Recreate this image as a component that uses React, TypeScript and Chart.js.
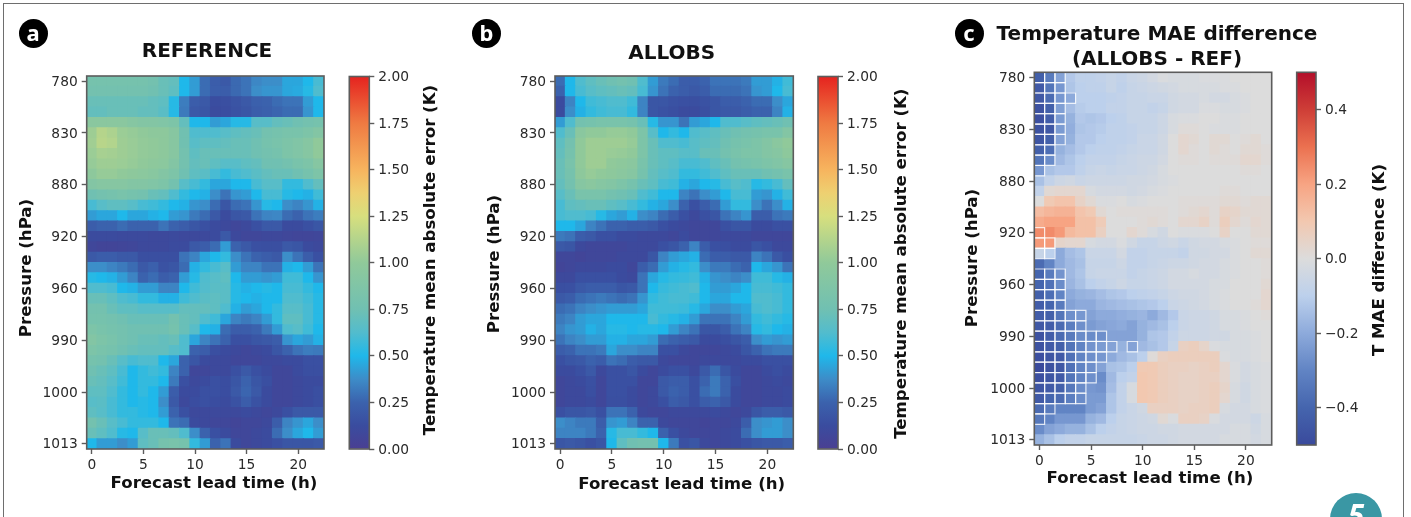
import React, { useEffect, useRef } from "react";
import { Chart, registerables } from "chart.js";

Chart.register(...registerables);

const forecastHourTicks = [0, 5, 10, 15, 20];
const pressureTickLabels = ["780", "830", "880", "920", "960", "990", "1000", "1013"];
const pressureTickRows = [0, 5, 10, 15, 20, 25, 30, 35];
const maeColorbarTicks = [0, 0.25, 0.5, 0.75, 1, 1.25, 1.5, 1.75, 2];
const diffColorbarTicks = [-0.4, -0.2, 0, 0.2, 0.4];

const referenceMae = [
  [.8,.8,.8,.8,.8,.8,.78,.72,.7,.5,.42,.28,.22,.2,.27,.3,.36,.38,.38,.45,.45,.5,.6],
  [.78,.78,.78,.78,.78,.78,.76,.72,.68,.5,.42,.28,.23,.22,.27,.3,.38,.4,.4,.45,.46,.52,.62],
  [.72,.72,.72,.72,.72,.72,.7,.68,.52,.33,.22,.2,.13,.14,.17,.2,.24,.25,.28,.3,.3,.42,.5],
  [.7,.7,.72,.72,.72,.7,.7,.66,.52,.32,.2,.18,.12,.13,.16,.18,.22,.24,.26,.28,.28,.4,.5],
  [.95,.95,.95,.95,.92,.9,.9,.88,.85,.7,.5,.5,.42,.45,.52,.52,.65,.65,.7,.72,.75,.78,.8],
  [1.05,1.13,1.1,1.04,1.02,1,.98,.98,.93,.76,.62,.62,.62,.65,.68,.7,.72,.78,.8,.82,.82,.85,.9],
  [1.06,1.14,1.12,1.05,1.03,1.01,1,.98,.93,.76,.65,.68,.68,.7,.72,.72,.75,.8,.82,.85,.88,.92,1],
  [1.04,1.08,1.07,1.05,1.03,1.01,1,.98,.93,.78,.68,.72,.72,.72,.72,.72,.75,.78,.8,.85,.88,.92,1],
  [1.02,1.05,1.05,1.04,1.02,1,.98,.96,.9,.78,.7,.72,.68,.65,.65,.68,.7,.75,.75,.78,.82,.85,.92],
  [.98,1.02,1.02,1,.98,.96,.94,.9,.85,.75,.68,.66,.6,.55,.6,.62,.66,.7,.72,.72,.75,.8,.85],
  [.9,.92,.92,.92,.9,.9,.88,.85,.78,.65,.6,.55,.45,.45,.5,.5,.6,.65,.65,.55,.55,.62,.7],
  [.75,.78,.8,.82,.8,.78,.72,.7,.62,.55,.5,.48,.38,.3,.4,.42,.5,.6,.6,.52,.5,.48,.58],
  [.6,.65,.68,.68,.65,.6,.58,.55,.5,.48,.4,.38,.28,.18,.28,.3,.4,.52,.5,.38,.35,.4,.48],
  [.42,.45,.45,.5,.45,.45,.48,.5,.42,.4,.32,.28,.2,.12,.18,.2,.3,.35,.36,.28,.25,.3,.33],
  [.22,.25,.25,.28,.25,.25,.25,.3,.25,.22,.18,.15,.12,.1,.08,.1,.15,.2,.2,.12,.12,.15,.18],
  [.12,.12,.12,.11,.11,.11,.1,.1,.11,.1,.1,.1,.12,.2,.1,.08,.08,.09,.09,.08,.07,.07,.08],
  [.08,.06,.06,.07,.08,.1,.1,.1,.12,.12,.2,.22,.28,.42,.25,.2,.15,.14,.14,.2,.18,.12,.1],
  [.2,.22,.22,.2,.2,.14,.14,.14,.14,.3,.35,.45,.5,.55,.38,.3,.25,.22,.2,.38,.3,.22,.15],
  [.38,.38,.35,.32,.28,.2,.24,.16,.18,.28,.48,.55,.6,.65,.42,.35,.35,.3,.3,.48,.5,.42,.3],
  [.52,.5,.48,.42,.35,.25,.28,.22,.25,.42,.52,.62,.65,.68,.5,.42,.42,.4,.42,.58,.58,.5,.4],
  [.62,.62,.6,.5,.48,.42,.42,.35,.35,.5,.58,.63,.66,.66,.52,.48,.5,.52,.5,.6,.6,.55,.5],
  [.72,.72,.68,.62,.6,.55,.55,.48,.48,.58,.62,.66,.68,.66,.52,.5,.48,.5,.5,.62,.62,.58,.52],
  [.78,.78,.72,.68,.68,.65,.65,.65,.65,.7,.7,.7,.68,.62,.48,.42,.45,.5,.55,.65,.65,.6,.52],
  [.8,.8,.78,.75,.72,.72,.72,.72,.78,.72,.7,.62,.58,.45,.35,.32,.35,.42,.55,.68,.68,.6,.52],
  [.85,.82,.8,.78,.75,.75,.75,.75,.8,.72,.65,.5,.48,.28,.22,.22,.25,.32,.42,.62,.65,.58,.5],
  [.9,.85,.82,.78,.75,.72,.72,.7,.72,.62,.45,.35,.3,.25,.15,.15,.18,.2,.22,.4,.45,.42,.48],
  [.85,.82,.8,.75,.72,.7,.7,.7,.65,.62,.25,.22,.14,.12,.1,.08,.1,.12,.18,.25,.3,.33,.32],
  [.8,.78,.72,.65,.6,.62,.62,.5,.45,.25,.18,.12,.1,.1,.08,.08,.08,.1,.1,.12,.12,.15,.15],
  [.75,.72,.68,.6,.5,.55,.58,.55,.35,.25,.08,.08,.1,.1,.15,.2,.15,.12,.08,.08,.12,.14,.14],
  [.72,.7,.65,.58,.5,.55,.55,.5,.32,.15,.1,.12,.15,.13,.18,.25,.18,.14,.08,.08,.1,.12,.12],
  [.68,.68,.62,.55,.5,.55,.5,.42,.22,.12,.12,.15,.15,.13,.2,.26,.2,.12,.08,.08,.1,.12,.14],
  [.65,.66,.6,.55,.5,.52,.5,.38,.2,.1,.13,.15,.13,.12,.16,.22,.16,.12,.08,.08,.1,.12,.14],
  [.68,.65,.6,.55,.55,.52,.5,.42,.25,.15,.1,.1,.1,.1,.1,.12,.1,.08,.1,.15,.2,.2,.2],
  [.78,.72,.65,.6,.55,.55,.55,.5,.3,.28,.12,.1,.08,.08,.06,.08,.08,.1,.22,.35,.4,.45,.38],
  [.72,.68,.62,.52,.5,.65,.72,.72,.7,.62,.38,.25,.15,.12,.08,.08,.1,.12,.28,.38,.45,.5,.42],
  [.5,.42,.42,.38,.42,.68,.72,.8,.82,.8,.55,.42,.25,.3,.12,.08,.1,.12,.15,.18,.18,.18,.2],
];

const allobsMae = [
  [.28,.5,.62,.68,.72,.75,.78,.75,.62,.42,.32,.28,.22,.22,.25,.3,.3,.3,.32,.42,.42,.48,.58],
  [.25,.5,.6,.65,.68,.7,.72,.7,.6,.4,.3,.25,.22,.2,.22,.28,.28,.28,.3,.4,.42,.5,.6],
  [.12,.35,.5,.58,.6,.62,.62,.58,.35,.18,.18,.16,.15,.14,.16,.18,.22,.22,.25,.28,.28,.38,.45],
  [.12,.38,.48,.55,.58,.6,.6,.55,.35,.18,.16,.14,.12,.12,.14,.18,.2,.2,.22,.25,.25,.35,.48],
  [.42,.62,.78,.8,.82,.82,.82,.8,.72,.52,.4,.4,.3,.42,.45,.5,.62,.62,.65,.68,.7,.72,.75],
  [.62,.72,.95,1,1,1.02,1.02,1,.85,.65,.5,.55,.5,.62,.65,.68,.72,.75,.78,.8,.82,.82,.9],
  [.68,.78,1,1.05,1.05,1.05,1.05,1.02,.85,.72,.62,.62,.6,.65,.68,.7,.75,.8,.82,.85,.9,.95,1],
  [.7,.8,1,1.05,1.05,1.03,1.02,1,.85,.72,.68,.68,.65,.65,.72,.72,.78,.82,.85,.85,.9,.92,.98],
  [.72,.82,1,1.05,1.05,1,.98,.95,.82,.72,.68,.65,.6,.6,.62,.68,.72,.78,.8,.82,.85,.88,.92],
  [.72,.8,.98,1.02,1,.98,.95,.92,.8,.7,.65,.62,.55,.55,.58,.62,.68,.72,.72,.72,.75,.78,.82],
  [.7,.78,.92,.95,.92,.9,.85,.8,.72,.68,.6,.58,.48,.45,.5,.52,.6,.65,.62,.52,.55,.6,.7],
  [.65,.72,.82,.82,.82,.78,.75,.72,.62,.58,.5,.5,.35,.3,.38,.42,.5,.6,.6,.42,.4,.48,.58],
  [.6,.68,.7,.72,.72,.68,.65,.6,.55,.48,.45,.38,.25,.15,.22,.28,.42,.55,.55,.38,.3,.38,.48],
  [.6,.62,.62,.6,.52,.45,.42,.48,.38,.35,.28,.22,.15,.1,.15,.18,.3,.35,.4,.22,.22,.3,.32],
  [.5,.5,.45,.35,.3,.25,.25,.22,.22,.2,.15,.12,.1,.08,.08,.08,.15,.18,.18,.12,.12,.15,.15],
  [.32,.3,.22,.2,.15,.15,.12,.12,.1,.1,.1,.08,.12,.08,.08,.08,.1,.1,.1,.08,.08,.08,.08],
  [.2,.18,.1,.08,.08,.08,.08,.1,.1,.1,.15,.18,.25,.35,.22,.15,.14,.12,.12,.18,.15,.1,.1],
  [.08,.08,.06,.08,.08,.08,.1,.1,.1,.18,.35,.42,.45,.48,.28,.22,.22,.2,.2,.35,.3,.2,.14],
  [.06,.08,.1,.1,.1,.12,.12,.08,.22,.28,.42,.48,.52,.55,.38,.32,.32,.28,.25,.5,.45,.4,.3],
  [.1,.1,.15,.15,.15,.15,.12,.1,.3,.45,.52,.55,.56,.58,.48,.4,.38,.35,.38,.58,.58,.52,.48],
  [.14,.15,.2,.22,.22,.22,.18,.2,.3,.5,.56,.58,.6,.62,.5,.42,.42,.45,.5,.6,.6,.58,.55],
  [.2,.22,.28,.3,.32,.3,.28,.3,.4,.55,.58,.6,.6,.58,.5,.45,.45,.5,.5,.62,.62,.6,.55],
  [.28,.3,.35,.38,.4,.42,.42,.42,.45,.58,.58,.58,.57,.52,.45,.38,.38,.42,.45,.6,.62,.6,.55],
  [.32,.35,.42,.45,.45,.5,.5,.5,.5,.6,.55,.52,.48,.42,.3,.3,.3,.35,.42,.55,.58,.55,.52],
  [.35,.4,.42,.48,.45,.52,.52,.5,.52,.52,.5,.42,.35,.3,.18,.18,.22,.3,.35,.52,.55,.5,.48],
  [.3,.35,.38,.42,.42,.48,.48,.45,.45,.42,.28,.25,.22,.2,.12,.12,.14,.18,.22,.38,.42,.4,.42],
  [.22,.25,.3,.3,.32,.45,.38,.38,.35,.35,.15,.15,.1,.08,.08,.08,.1,.12,.18,.25,.3,.32,.32],
  [.15,.18,.2,.25,.22,.3,.28,.22,.2,.2,.1,.08,.08,.08,.1,.1,.1,.1,.12,.12,.15,.15,.15],
  [.12,.12,.15,.2,.1,.15,.15,.18,.12,.08,.12,.15,.15,.1,.2,.28,.18,.12,.08,.08,.12,.14,.12],
  [.08,.1,.12,.15,.08,.15,.15,.15,.08,.08,.2,.22,.22,.15,.25,.32,.25,.14,.08,.08,.1,.12,.1],
  [.08,.1,.1,.14,.08,.15,.15,.12,.08,.1,.2,.25,.22,.15,.28,.32,.25,.12,.08,.08,.1,.1,.12],
  [.08,.1,.1,.12,.08,.14,.14,.12,.08,.1,.15,.22,.2,.15,.22,.25,.2,.12,.08,.08,.1,.1,.12],
  [.15,.18,.18,.2,.15,.3,.3,.25,.1,.08,.08,.1,.1,.1,.1,.12,.1,.08,.1,.18,.22,.22,.2],
  [.38,.35,.32,.32,.22,.4,.42,.35,.25,.25,.1,.08,.08,.08,.06,.08,.08,.1,.22,.38,.4,.42,.38],
  [.35,.35,.35,.32,.25,.52,.6,.6,.55,.5,.25,.15,.1,.08,.08,.08,.1,.12,.28,.38,.42,.42,.38],
  [.18,.2,.18,.15,.18,.5,.68,.75,.78,.78,.5,.32,.15,.18,.1,.08,.1,.12,.15,.18,.2,.2,.22],
];

const maeDifference = [
  [-.42,-.33,-.22,-.12,-.09,-.09,-.08,-.07,-.08,-.06,-.05,-.03,-.01,-.02,-.02,-.02,-.01,-.01,-.01,0,0,0,0],
  [-.44,-.35,-.25,-.13,-.1,-.09,-.09,-.07,-.09,-.07,-.06,-.05,-.04,-.03,-.02,-.02,-.02,-.02,-.01,-.01,0,0,0],
  [-.45,-.38,-.25,-.2,-.1,-.1,-.1,-.09,-.08,-.07,-.07,-.06,-.06,-.04,-.03,-.03,-.02,-.03,-.03,-.02,-.01,0,0],
  [-.47,-.42,-.23,-.15,-.11,-.1,-.1,-.08,-.08,-.07,-.07,-.08,-.07,-.04,-.03,-.03,-.01,-.01,-.02,-.02,-.01,0,0],
  [-.48,-.43,-.24,-.18,-.12,-.13,-.12,-.1,-.09,-.07,-.07,-.07,-.05,-.02,-.01,-.01,0,0,-.01,-.01,0,0,0],
  [-.47,-.45,-.24,-.19,-.13,-.12,-.11,-.09,-.09,-.08,-.07,-.07,-.05,-.02,.01,.01,0,-.01,-.01,-.01,0,0,0],
  [-.46,-.42,-.22,-.18,-.12,-.12,-.1,-.09,-.09,-.08,-.06,-.06,-.04,0,.03,.02,0,.02,.02,0,.01,.02,0],
  [-.42,-.37,-.18,-.15,-.12,-.1,-.09,-.09,-.08,-.07,-.06,-.06,-.04,0,.03,.01,0,.02,.01,0,.02,.02,.01],
  [-.35,-.28,-.16,-.13,-.1,-.08,-.08,-.08,-.07,-.06,-.05,-.05,-.03,0,.01,.01,0,.01,.01,.01,.03,.03,.01],
  [-.25,-.14,-.12,-.12,-.09,-.07,-.06,-.07,-.06,-.06,-.05,-.04,-.02,0,0,0,0,0,0,0,.01,.01,0],
  [-.14,-.08,-.05,-.04,-.06,-.05,-.05,-.05,-.05,-.04,-.04,-.03,-.02,-.01,0,0,0,0,0,0,0,0,0],
  [-.08,.02,.03,.03,.03,-.02,-.03,-.03,-.03,-.04,-.03,-.02,-.01,0,0,0,0,0,.01,.01,0,0,0],
  [0,.09,.11,.11,.05,.02,-.01,-.01,0,-.02,-.01,0,0,0,.01,.01,.01,.01,.02,.02,.01,.02,.02],
  [.13,.15,.16,.16,.11,.09,.02,0,.01,.01,.01,.01,.01,0,.01,.02,.03,.01,.05,.04,.02,.02,.02],
  [.18,.2,.2,.2,.12,.12,.08,0,0,0,.01,.02,.01,0,.03,.03,.05,.01,.07,.03,.01,.03,.02],
  [.25,.25,.22,.14,.12,.12,.06,0,0,.03,.01,-.02,-.04,0,-.01,-.01,-.01,0,.05,0,0,.02,.02],
  [.22,.22,.04,.03,.03,-.02,-.03,-.03,-.01,-.04,-.07,-.07,-.05,-.04,-.06,-.04,-.03,-.03,-.02,-.01,0,.01,.01],
  [-.07,-.1,-.2,-.15,-.13,-.06,-.06,-.06,-.03,-.08,-.08,-.07,-.07,-.07,-.08,-.04,-.04,-.03,-.03,-.01,0,.02,.02],
  [-.38,-.3,-.2,-.16,-.14,-.07,-.07,-.07,-.05,-.08,-.08,-.07,-.06,-.05,-.05,-.04,-.03,-.03,-.02,-.01,0,0,.01],
  [-.4,-.33,-.26,-.16,-.13,-.07,-.06,-.06,-.06,-.08,-.07,-.06,-.05,-.03,-.03,-.02,-.03,-.03,-.02,-.01,0,0,.01],
  [-.4,-.36,-.28,-.17,-.14,-.1,-.08,-.07,-.05,-.07,-.07,-.06,-.05,-.03,-.03,-.03,-.03,-.02,-.02,0,0,0,.02],
  [-.42,-.37,-.3,-.2,-.18,-.17,-.15,-.13,-.12,-.1,-.09,-.08,-.07,-.05,-.04,-.04,-.03,-.02,-.01,0,0,0,.03],
  [-.43,-.4,-.33,-.22,-.2,-.2,-.17,-.16,-.15,-.14,-.13,-.12,-.1,-.06,-.05,-.04,-.03,-.02,-.01,0,0,.01,.03],
  [-.43,-.42,-.35,-.27,-.25,-.22,-.2,-.2,-.19,-.18,-.17,-.2,-.16,-.12,-.06,-.05,-.05,-.04,-.02,-.02,-.01,0,.01],
  [-.45,-.43,-.38,-.32,-.27,-.24,-.22,-.21,-.2,-.22,-.18,-.16,-.14,-.1,-.06,-.05,-.05,-.04,-.02,-.02,-.01,0,0],
  [-.47,-.43,-.38,-.33,-.28,-.28,-.27,-.22,-.22,-.22,-.18,-.13,-.12,-.08,-.05,-.05,-.05,-.04,-.04,-.02,-.02,-.01,0],
  [-.47,-.44,-.42,-.35,-.3,-.26,-.24,-.22,-.18,-.22,-.16,-.14,-.12,-.07,.06,.07,.04,-.01,-.02,-.02,-.02,-.01,0],
  [-.48,-.46,-.44,-.36,-.3,-.27,-.25,-.2,-.16,-.14,-.1,.01,.06,.07,.07,.07,.07,.07,-.01,-.02,-.02,-.01,0],
  [-.5,-.47,-.45,-.36,-.3,-.27,-.22,-.14,-.13,-.1,.09,.09,.07,.06,.06,.05,.06,.07,.03,-.01,-.03,-.02,-.01],
  [-.48,-.46,-.44,-.35,-.3,-.27,-.28,-.16,-.1,-.08,.1,.09,.07,.06,.05,.05,.06,.06,.03,-.01,-.03,-.02,-.01],
  [-.46,-.44,-.42,-.34,-.28,-.25,-.26,-.15,-.08,-.02,.1,.09,.07,.06,.05,.05,.06,.07,.04,-.02,-.04,-.02,-.01],
  [-.44,-.4,-.38,-.32,-.28,-.24,-.24,-.13,-.08,-.02,.1,.09,.07,.06,.05,.05,.06,.07,.03,-.02,-.04,-.02,-.01],
  [-.38,-.33,-.3,-.3,-.3,-.24,-.22,-.13,-.08,-.06,-.04,.06,.06,.06,.05,.06,.06,.07,-.02,-.03,-.03,-.02,-.01],
  [-.34,-.3,-.25,-.25,-.25,-.18,-.16,-.1,-.07,-.06,-.05,-.04,.02,-.01,.06,.06,.05,-.01,-.03,-.03,-.03,-.05,-.02],
  [-.28,-.22,-.2,-.18,-.18,-.14,-.1,-.08,-.07,-.06,-.05,-.05,-.04,-.04,-.03,-.03,-.03,-.03,-.03,-.02,-.02,-.04,-.02],
  [-.18,-.14,-.1,-.08,-.08,-.07,-.07,-.07,-.07,-.07,-.06,-.05,-.05,-.04,-.03,-.03,-.03,-.03,-.02,-.02,-.02,-.03,-.02],
];

// Number of leading columns that carry a white significance box in each row of the difference panel.
const significantColumnCount = [3,3,4,3,3,3,3,2,2,1,0,0,0,0,0,1,2,2,0,3,3,3,3,5,5,7,8,7,6,6,5,5,2,1,0,0];
const isolatedSignificantCells = [{ x: 9, y: 26 }];

const maeColorStops: [number, number[]][] = [
  [0, [74, 63, 146]], [0.125, [58, 76, 159]], [0.25, [59, 98, 173]], [0.375, [61, 140, 200]],
  [0.5, [31, 184, 234]], [0.625, [82, 188, 205]], [0.75, [112, 192, 178]], [1, [144, 201, 154]],
  [1.25, [215, 223, 126]], [1.375, [238, 208, 113]], [1.5, [247, 180, 94]], [1.75, [239, 122, 66]], [2, [229, 35, 31]],
];
const diffColorStops: [number, number[]][] = [
  [-0.5, [58, 74, 156]], [-0.4, [69, 101, 174]], [-0.3, [97, 132, 196]], [-0.2, [141, 170, 219]],
  [-0.1, [188, 208, 236]], [0, [220, 220, 220]], [0.1, [242, 200, 176]], [0.2, [247, 164, 131]],
  [0.3, [235, 113, 80]], [0.4, [206, 62, 55]], [0.5, [180, 14, 42]],
];

const colorAt = (stops: [number, number[]][], v: number) => {
  const c = Math.max(stops[0][0], Math.min(stops[stops.length - 1][0], v));
  let i = 0;
  while (i < stops.length - 2 && c > stops[i + 1][0]) i++;
  const t = (c - stops[i][0]) / (stops[i + 1][0] - stops[i][0]);
  const a = stops[i][1], b = stops[i + 1][1];
  return `rgb(${a[0] + (b[0] - a[0]) * t},${a[1] + (b[1] - a[1]) * t},${a[2] + (b[2] - a[2]) * t})`;
};

const FONT = '"DejaVu Sans", sans-serif';
const INK = "#2a2a2a";
const SPINE = "#5c5c5c";
const TICK_SIZE = 13.8;
const LABEL_SIZE = 16.6;
const TITLE_SIZE = 20;

const spinePlugin = {
  id: "spines",
  afterDatasetsDraw(chart: any) {
    const { ctx, chartArea: a } = chart;
    ctx.save();
    ctx.strokeStyle = SPINE;
    ctx.lineWidth = 1.6;
    ctx.strokeRect(a.left, a.top, a.right - a.left, a.bottom - a.top);
    ctx.restore();
  },
};

const placedLabelPlugin = {
  id: "placedLabels",
  afterDraw(chart: any, _args: any, opts: any) {
    const { ctx } = chart;
    (opts.items || []).forEach((it: any) => {
      ctx.save();
      ctx.translate(it.x, it.y);
      if (it.vertical) ctx.rotate(-Math.PI / 2);
      ctx.font = `bold ${it.size || LABEL_SIZE}px ${FONT}`;
      ctx.fillStyle = "#111";
      ctx.textAlign = "center";
      ctx.textBaseline = "middle";
      ctx.fillText(it.text, 0, 0);
      ctx.restore();
    });
  },
};

const axisStyle = {
  grid: { display: true, drawOnChartArea: false, drawTicks: true, tickLength: 5, tickColor: SPINE, tickWidth: 1.4 },
  border: { display: false },
};
const tickFont = { family: FONT, size: TICK_SIZE };

type TitleLine = { text: string; x: number; y: number };
type PanelSpec = {
  left: number; width: number; plotLeft: number; plotRight: number; plotTop: number; plotBottom: number;
  titleLines: TitleLine[];
  rows: number[][]; stops: [number, number[]][];
  xLabel: { x: number; y: number }; yLabel: { x: number; y: number };
  boxes?: { x: number; y: number }[];
};
type BarSpec = {
  left: number; width: number; barLeft: number; barRight: number; plotTop: number; plotBottom: number;
  min: number; max: number; ticks: number[]; format: (v: number) => string; stops: [number, number[]][];
  label: string; labelX: number; labelY: number;
};

const HEIGHT = 517;

function makeHeatmap(canvas: HTMLCanvasElement, p: PanelSpec) {
  const cells = p.rows.flatMap((row, y) => row.map((v, x) => ({ x, y, v })));
  const datasets: any[] = [
    {
      label: "cells",
      order: 2,
      data: cells,
      clip: 0,
      showLine: false,
      pointStyle: "rect",
      pointBorderWidth: 0,
      pointRadius: (c: any) => (c.chart.chartArea ? (c.chart.chartArea.width / 23 + 1.05) / Math.SQRT2 : 7),
      pointBackgroundColor: (c: any) => colorAt(p.stops, c.raw.v),
    },
  ];
  if (p.boxes) {
    datasets.push({
      label: "significant",
      order: 1,
      data: p.boxes,
      clip: 1,
      showLine: false,
      pointStyle: "rect",
      pointBorderWidth: 1.2,
      pointBorderColor: "rgba(255,255,255,0.8)",
      pointBackgroundColor: "rgba(0,0,0,0)",
      pointRadius: (c: any) => (c.chart.chartArea ? c.chart.chartArea.width / 23 / Math.SQRT2 : 7),
    });
  }
  return new Chart(canvas, {
    type: "scatter",
    data: { datasets },
    plugins: [spinePlugin, placedLabelPlugin],
    options: {
      animation: false,
      responsive: false,
      events: [],
      layout: { padding: { left: 0, top: p.plotTop, bottom: 0, right: p.width - (p.plotRight - p.left) } },
      scales: {
        x: {
          type: "linear", min: -0.5, max: 22.5,
          afterBuildTicks: (s: any) => { s.ticks = forecastHourTicks.map((value) => ({ value })); },
          afterFit: (s: any) => { s.height = HEIGHT - p.plotBottom; },
          ticks: { font: tickFont, color: INK, padding: 3, maxRotation: 0, autoSkip: false },
          ...axisStyle,
        },
        y: {
          type: "linear", min: -0.5, max: 35.5, reverse: true,
          afterBuildTicks: (s: any) => { s.ticks = pressureTickRows.map((value) => ({ value })); },
          afterFit: (s: any) => { s.width = p.plotLeft - p.left; },
          ticks: {
            font: tickFont, color: INK, padding: 4, autoSkip: false, labelOffset: 1,
            callback: (v: any) => pressureTickLabels[pressureTickRows.indexOf(v)],
          },
          ...axisStyle,
        },
      },
      plugins: {
        legend: { display: false },
        tooltip: { enabled: false },
        placedLabels: {
          items: [
            ...p.titleLines.map((t) => ({ text: t.text, x: t.x - p.left, y: t.y, size: TITLE_SIZE })),
            { text: "Forecast lead time (h)", x: p.xLabel.x - p.left, y: p.xLabel.y },
            { text: "Pressure (hPa)", x: p.yLabel.x - p.left, y: p.yLabel.y, vertical: true },
          ],
        },
      },
    } as any,
  });
}

function makeColorbar(canvas: HTMLCanvasElement, b: BarSpec) {
  return new Chart(canvas, {
    type: "bar",
    data: {
      labels: [b.label],
      datasets: [{
        data: [[b.min, b.max]],
        barPercentage: 1,
        categoryPercentage: 1,
        backgroundColor: (c: any) => {
          const a = c.chart.chartArea;
          if (!a) return "#888";
          const g = c.chart.ctx.createLinearGradient(0, a.bottom, 0, a.top);
          b.stops.forEach(([v, rgb]) => {
            g.addColorStop((v - b.min) / (b.max - b.min), `rgb(${rgb.join(",")})`);
          });
          return g;
        },
      }],
    } as any,
    plugins: [spinePlugin, placedLabelPlugin],
    options: {
      animation: false,
      responsive: false,
      events: [],
      layout: { padding: { left: b.barLeft - b.left, top: b.plotTop, bottom: HEIGHT - b.plotBottom, right: 0 } },
      scales: {
        x: { display: false },
        y: {
          position: "right", min: b.min, max: b.max,
          afterBuildTicks: (s: any) => { s.ticks = b.ticks.map((value) => ({ value })); },
          afterFit: (s: any) => { s.width = b.width - (b.barRight - b.left); },
          ticks: { font: tickFont, color: INK, padding: 4, autoSkip: false, labelOffset: 1, callback: (v: any) => b.format(v) },
          ...axisStyle,
        },
      },
      plugins: {
        legend: { display: false },
        tooltip: { enabled: false },
        placedLabels: { items: [{ text: b.label, x: b.labelX - b.left, y: b.labelY, vertical: true }] },
      },
    } as any,
  });
}

const significantCells = [
  ...significantColumnCount.flatMap((n, y) => Array.from({ length: n }, (_, x) => ({ x, y }))),
  ...isolatedSignificantCells,
];

const panelA: PanelSpec = {
  left: 0, width: 342, plotLeft: 86.7, plotRight: 324, plotTop: 76, plotBottom: 449,
  titleLines: [{ text: "REFERENCE", x: 207, y: 52 }],
  rows: referenceMae, stops: maeColorStops, xLabel: { x: 214, y: 484 }, yLabel: { x: 27, y: 268 },
};
const panelB: PanelSpec = {
  left: 462, width: 345, plotLeft: 555, plotRight: 793.3, plotTop: 76, plotBottom: 449,
  titleLines: [{ text: "ALLOBS", x: 671.7, y: 54 }],
  rows: allobsMae, stops: maeColorStops, xLabel: { x: 681.7, y: 485 }, yLabel: { x: 495, y: 264 },
};
const panelC: PanelSpec = {
  left: 937, width: 440, plotLeft: 1034.3, plotRight: 1271.7, plotTop: 72.3, plotBottom: 445,
  titleLines: [
    { text: "Temperature MAE difference", x: 1157, y: 35 },
    { text: "(ALLOBS - REF)", x: 1157, y: 59.5 },
  ],
  rows: maeDifference, stops: diffColorStops, xLabel: { x: 1150, y: 478.7 }, yLabel: { x: 973, y: 258 },
  boxes: significantCells,
};
const maeLabel = "Temperature mean absolute error (K)";
const barA: BarSpec = {
  left: 340, width: 120, barLeft: 349.3, barRight: 369.3, plotTop: 76.5, plotBottom: 449,
  min: 0, max: 2, ticks: maeColorbarTicks, format: (v) => v.toFixed(2), stops: maeColorStops,
  label: maeLabel, labelX: 431, labelY: 260,
};
const barB: BarSpec = {
  left: 810, width: 120, barLeft: 818, barRight: 838, plotTop: 76.5, plotBottom: 449,
  min: 0, max: 2, ticks: maeColorbarTicks, format: (v) => v.toFixed(2), stops: maeColorStops,
  label: maeLabel, labelX: 901.7, labelY: 263.7,
};
const barC: BarSpec = {
  left: 1285, width: 115, barLeft: 1296.7, barRight: 1316, plotTop: 72.3, plotBottom: 445,
  min: -0.5, max: 0.5, ticks: diffColorbarTicks,
  format: (v) => (v < 0 ? "\u2212" + Math.abs(v).toFixed(1) : v.toFixed(1)), stops: diffColorStops,
  label: "T MAE difference (K)", labelX: 1380, labelY: 260,
};

const canvasStyle = (left: number, width: number): React.CSSProperties => ({
  position: "absolute", left, top: 0, width, height: HEIGHT, display: "block", filter: "blur(0.6px)",
});

const Badge = ({ x, letter }: { x: number; letter: string }) => (
  <div style={{
    position: "absolute", left: x - 14.5, top: 18.5, width: 29, height: 29, borderRadius: "50%",
    background: "#000", color: "#fff", textAlign: "center",
    font: 'bold 22px/26px "Noto Sans", sans-serif',
  }}>{letter}</div>
);

export default function App() {
  const refs = [useRef<HTMLCanvasElement>(null), useRef<HTMLCanvasElement>(null), useRef<HTMLCanvasElement>(null),
    useRef<HTMLCanvasElement>(null), useRef<HTMLCanvasElement>(null), useRef<HTMLCanvasElement>(null)];
  const panels = [panelA, panelB, panelC];
  const bars = [barA, barB, barC];
  useEffect(() => {
    const charts = [
      ...panels.map((p, i) => makeHeatmap(refs[i].current!, p)),
      ...bars.map((b, i) => makeColorbar(refs[i + 3].current!, b)),
    ];
    return () => charts.forEach((c) => c.destroy());
  }, []);
  return (
    <div style={{ position: "fixed", left: 0, top: 0, width: 1411, height: HEIGHT, overflow: "hidden", background: "#fff" }}>
      <div style={{ position: "absolute", left: 3, top: 3, width: 1401, height: 600, border: "1.5px solid #6e6e6e", boxSizing: "border-box" }} />
      {panels.map((p, i) => <canvas key={i} ref={refs[i]} width={p.width} height={HEIGHT} style={canvasStyle(p.left, p.width)} />)}
      {bars.map((b, i) => <canvas key={i} ref={refs[i + 3]} width={b.width} height={HEIGHT} style={canvasStyle(b.left, b.width)} />)}
      <Badge x={33} letter="a" />
      <Badge x={486.5} letter="b" />
      <Badge x={969} letter="c" />
      <div style={{
        position: "absolute", left: 1330, top: 492.5, width: 52, height: 52, borderRadius: "50%", background: "#3a97a4",
        color: "#fff", textAlign: "center", font: 'italic bold 30px/44px "Noto Sans", sans-serif',
      }}>5</div>
    </div>
  );
}
